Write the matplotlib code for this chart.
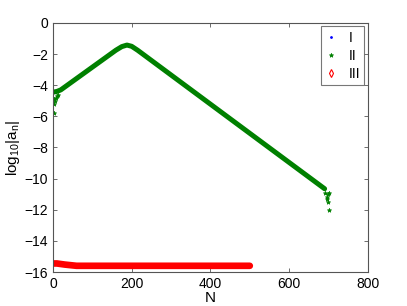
import matplotlib
matplotlib.use("Agg")
import matplotlib.pyplot as plt

plt.rcParams['font.family'] = ['Liberation Sans', 'DejaVu Sans']
plt.rcParams['mathtext.fontset'] = 'custom'
plt.rcParams['mathtext.rm'] = 'Liberation Sans'
plt.rcParams['mathtext.it'] = 'Liberation Sans'

# Series II: dense band (key vertices) and scattered end points
band2_n = [0, 10, 20, 160, 175, 188, 200, 215, 690]
band2_v = [-4.45, -4.4, -4.3, -1.75, -1.52, -1.42, -1.5, -1.75, -10.65]
out2_n = [2, 3, 4, 6, 8, 10, 12, 692, 695, 697, 698, 699, 700, 700]
out2_v = [-5.8, -4.9, -5.2, -5.0, -4.8, -4.7, -4.6, -10.9, -11.2, -11.3, -11.5, -11.0, -10.9, -12.0]

# Series III: dense band (key vertices)
band3_n = [0, 10, 30, 60, 500]
band3_v = [-15.45, -15.45, -15.52, -15.6, -15.6]

# Series I: hidden beneath the others
s1_n = []
s1_v = []

xticks = [0, 200, 400, 600, 800]
yticks = [0, -2, -4, -6, -8, -10, -12, -14, -16]

fig = plt.figure(figsize=(4.07, 3.06), dpi=100)
ax = fig.add_axes([0.130, 0.111, 0.774, 0.814])

green = '#008000'
ax.plot(band2_n, band2_v, color=green, lw=3.6, solid_capstyle='round', solid_joinstyle='round')
ax.plot(s1_n, s1_v, '.', color='blue', ms=2, label='I')
ax.plot(out2_n, out2_v, '*', color=green, ms=3.2, mew=0.5, label='II', linestyle='none')
ax.plot(band3_n, band3_v, color='red', lw=4.8, solid_capstyle='round')
ax.plot([], [], 'd', color='red', mfc='none', ms=4, mew=0.8, label='III')

ax.set_xlim(0, 800)
ax.set_ylim(-16, 0)
ax.set_xticks(xticks)
ax.set_yticks(yticks)
ax.set_yticklabels(['0', '\u22122', '\u22124', '\u22126', '\u22128', '\u221210', '\u221212', '\u221214', '\u221216'])
ax.tick_params(direction='in', top=True, right=True, labelsize=10, length=3, width=0.6, colors='#555555', labelcolor='black')
for s in ax.spines.values():
    s.set_color('#555555')
    s.set_linewidth(0.8)

ax.set_xlabel('N', fontsize=11, labelpad=0)
ax.set_ylabel(r'log$_{10}$|a$_n$|', fontsize=11, labelpad=2)

leg = ax.legend(loc='upper right', fontsize=10, frameon=True, fancybox=False,
                edgecolor='#555555', borderaxespad=0.25, handlelength=0.9,
                handletextpad=0.8, labelspacing=0.3, borderpad=0.3)
leg.get_frame().set_linewidth(0.8)

fig.savefig('out.png', dpi=100)
